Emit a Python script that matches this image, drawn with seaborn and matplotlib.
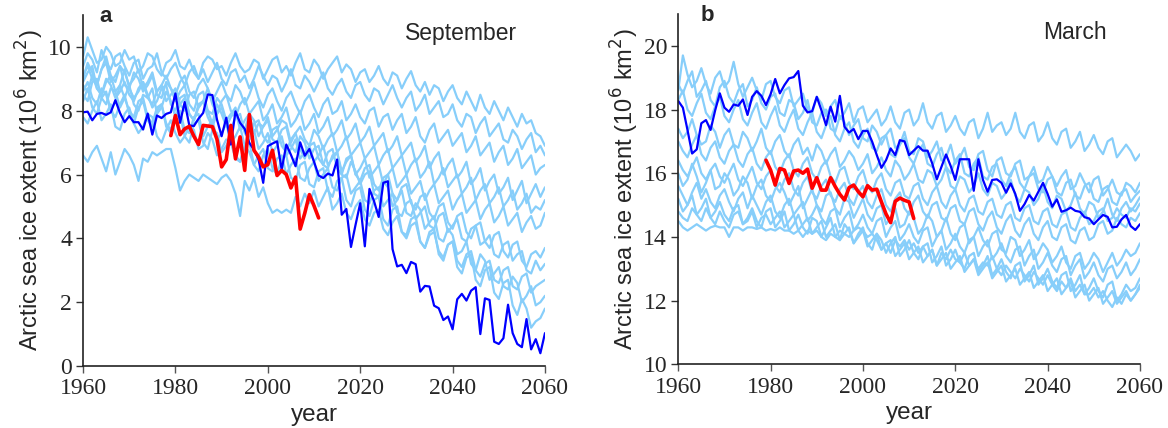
import numpy as np
import pandas as pd
import matplotlib
matplotlib.use("Agg")
import matplotlib.pyplot as plt
import seaborn as sns

years = list(range(1960, 2061))
obs_years = list(range(1979, 2012))

# ---------------- September (panel a) ----------------
sep_highlight = [
    7.95, 7.97, 7.70, 7.90, 7.93, 7.87, 7.95, 8.33, 7.93, 7.64,
    7.83, 7.64, 7.64, 7.41, 7.91, 7.25, 7.85, 7.77, 7.90, 7.95,
    8.54, 7.62, 8.27, 7.54, 7.52, 7.75, 7.93, 8.51, 8.49, 7.72,
    7.20, 7.78, 6.94, 7.98, 7.62, 7.43, 6.99, 6.78, 6.47, 5.74,
    6.89, 6.97, 7.04, 6.15, 6.94, 6.62, 6.26, 7.01, 6.59, 6.80,
    6.40, 5.97, 5.89, 6.03, 5.97, 6.47, 4.74, 4.92, 3.73, 4.43,
    5.10, 3.75, 5.55, 5.16, 4.67, 5.74, 5.79, 3.66, 3.12, 3.17,
    2.91, 3.26, 3.19, 2.33, 2.51, 2.49, 1.89, 1.81, 1.44, 1.55,
    1.15, 2.09, 2.26, 2.05, 2.36, 2.47, 1.00, 2.12, 2.07, 0.76,
    0.69, 0.87, 1.92, 1.03, 0.69, 0.59, 1.47, 0.52, 0.84, 0.40,
    1.03,
]
sep_obs = [
    7.22, 7.85, 7.25, 7.43, 7.51, 7.20, 6.94, 7.54, 7.52, 7.50,
    7.10, 6.24, 6.47, 7.54, 6.49, 7.18, 6.13, 7.88, 6.76, 6.55,
    6.24, 6.31, 6.76, 5.97, 6.13, 6.00, 5.58, 5.92, 4.29, 4.79,
    5.37, 5.02, 4.64,
]
sep_run_01 = [
    9.7, 10.3, 9.9, 9.5, 9.6, 10.0, 9.8, 9.4, 9.5, 9.9,
    9.6, 9.7, 9.2, 9.4, 9.8, 9.7, 9.3, 9.1, 9.5, 9.6,
    9.9, 9.4, 9.3, 9.6, 9.2, 9.0, 9.5, 9.7, 9.6, 9.3,
    9.4, 9.1, 9.5, 9.8, 9.4, 9.2, 9.3, 9.6, 9.5, 9.0,
    9.3, 9.6, 9.7, 9.2, 9.4, 9.1, 9.5, 9.8, 9.3, 9.2,
    9.6, 9.4, 9.0, 9.3, 9.5, 9.7, 9.2, 9.45, 9.3, 8.9,
    9.2, 9.3, 8.9, 9.1, 9.4, 9.0, 8.8, 9.2, 9.1, 8.7,
    9.0, 9.24, 8.8, 8.6, 8.9, 8.5, 8.8, 8.7, 8.3, 8.6,
    8.8, 8.4, 8.2, 8.6, 8.3, 8.0, 8.5, 8.1, 7.9, 8.3,
    8.0, 7.7, 8.1, 7.8, 7.5, 7.9, 7.6, 7.7, 7.3, 7.2,
    6.9,
]
sep_run_02 = [
    9.4, 9.8, 9.6, 9.2, 9.9, 9.5, 9.3, 9.7, 9.8, 9.4,
    9.1, 9.5, 9.6, 9.0, 9.3, 9.4, 9.8, 9.2, 9.0, 9.3,
    9.5, 9.1, 8.8, 9.2, 9.4, 9.0, 9.3, 8.9, 9.2, 9.5,
    9.0, 8.8, 9.2, 9.3, 8.9, 9.1, 8.7, 9.0, 9.4, 9.1,
    8.8, 9.1, 9.0, 8.6, 8.9, 9.3, 8.8, 8.7, 9.1, 8.9,
    8.6, 8.9, 9.2, 8.7, 8.5, 8.8, 9.0, 8.6, 8.4, 8.8,
    8.9, 8.5, 8.3, 8.7, 8.6, 8.2, 8.5, 8.8, 8.4, 8.1,
    8.4, 8.6, 8.0, 8.2, 8.5, 7.9, 8.1, 8.3, 7.8, 7.9,
    8.2, 7.7, 7.5, 7.9, 7.8, 7.3, 7.6, 7.8, 7.2, 7.4,
    7.6, 7.1, 7.0, 7.4, 7.2, 6.8, 7.1, 7.3, 6.7, 6.9,
    6.6,
]
sep_run_03 = [
    9.0, 9.5, 9.2, 8.8, 9.3, 9.7, 9.1, 8.9, 9.4, 9.2,
    8.8, 9.0, 9.3, 8.7, 8.9, 9.2, 8.6, 8.8, 9.1, 8.7,
    8.5, 8.9, 9.1, 8.6, 8.4, 8.8, 9.0, 8.7, 8.3, 8.6,
    8.9, 8.5, 8.3, 8.8, 8.6, 8.2, 8.5, 8.9, 8.4, 8.1,
    8.5, 8.7, 8.3, 8.0, 8.4, 8.6, 8.2, 7.9, 8.3, 8.5,
    8.1, 7.8, 8.2, 8.4, 7.9, 8.0, 8.3, 7.7, 7.9, 8.2,
    7.8, 7.6, 8.0, 8.1, 7.5, 7.8, 7.9, 7.4, 7.7, 7.9,
    7.3, 7.5, 7.8, 7.2, 7.0, 7.4, 7.6, 7.0, 7.2, 7.4,
    6.9, 7.1, 7.3, 6.7, 6.9, 7.2, 6.6, 6.8, 7.0, 6.4,
    6.7, 6.9, 6.3, 6.5, 6.8, 6.2, 6.4, 6.6, 6.0, 6.2,
    6.3,
]
sep_run_04 = [
    8.8, 8.6, 9.1, 8.7, 8.5, 9.0, 8.8, 8.4, 8.6, 8.9,
    8.5, 8.3, 8.7, 8.9, 8.4, 8.2, 8.6, 8.8, 8.3, 8.5,
    8.7, 8.2, 8.0, 8.5, 8.6, 8.1, 8.3, 8.7, 8.2, 7.9,
    8.3, 8.5, 8.0, 7.8, 8.2, 8.4, 7.9, 8.1, 8.3, 7.7,
    7.9, 8.2, 7.6, 7.8, 8.1, 7.5, 7.7, 8.0, 7.4, 7.6,
    7.9, 7.3, 7.5, 7.8, 7.2, 7.4, 7.7, 7.1, 7.3, 7.6,
    7.0, 7.2, 7.5, 6.9, 7.1, 7.3, 6.7, 6.9, 7.2, 6.6,
    6.8, 7.0, 6.4, 6.6, 6.9, 6.2, 6.5, 6.7, 6.0, 6.3,
    6.5, 5.9, 6.1, 6.4, 5.7, 5.9, 6.2, 5.5, 5.8, 6.0,
    5.4, 5.6, 5.9, 5.2, 5.5, 5.8, 5.1, 5.4, 5.7, 5.3,
    5.6,
]
sep_run_05 = [
    8.5, 8.3, 8.9, 9.0, 8.4, 8.2, 8.7, 8.6, 8.1, 8.4,
    8.8, 8.2, 8.0, 8.5, 8.4, 8.7, 7.9, 8.1, 8.6, 8.3,
    7.8, 8.2, 8.4, 7.9, 7.7, 8.1, 8.3, 8.0, 7.6, 8.2,
    7.9, 7.5, 7.8, 8.0, 7.4, 7.7, 7.9, 7.3, 7.6, 7.5,
    7.8, 7.2, 7.4, 7.7, 7.6, 7.0, 7.3, 7.5, 7.1, 6.9,
    7.4, 7.2, 6.8, 7.1, 7.3, 6.7, 6.9, 7.2, 6.6, 6.8,
    7.0, 6.5, 6.7, 6.9, 6.3, 6.6, 6.8, 6.2, 6.4, 6.6,
    6.0, 6.3, 6.5, 5.9, 6.1, 6.4, 5.7, 5.9, 6.2, 5.6,
    5.8, 6.0, 5.4, 5.6, 5.9, 5.2, 5.5, 5.7, 5.1, 5.3,
    5.6, 5.0, 5.2, 5.5, 4.9, 5.1, 5.4, 4.8, 5.0, 4.9,
    5.2,
]
sep_run_06 = [
    8.3, 8.7, 8.1, 7.9, 8.4, 8.6, 8.0, 7.8, 8.2, 8.5,
    7.9, 7.6, 8.1, 8.3, 7.7, 7.5, 8.0, 8.2, 7.6, 7.4,
    7.9, 8.0, 7.4, 7.3, 7.8, 7.9, 7.2, 7.5, 7.7, 7.1,
    7.3, 7.6, 7.0, 7.2, 7.5, 6.9, 7.1, 7.4, 6.8, 7.0,
    7.3, 6.7, 6.9, 7.2, 6.6, 6.8, 7.1, 6.5, 6.7, 6.9,
    6.4, 6.6, 6.9, 6.3, 6.5, 6.7, 6.1, 6.4, 6.6, 6.0,
    6.2, 6.5, 5.9, 6.1, 6.3, 5.7, 6.0, 6.2, 5.6, 5.8,
    6.0, 5.4, 5.6, 5.8, 5.2, 5.5, 5.7, 5.1, 5.3, 5.5,
    4.9, 5.2, 5.4, 4.8, 5.0, 5.2, 4.6, 4.9, 5.1, 4.5,
    4.7, 5.0, 4.4, 4.6, 4.8, 4.2, 4.5, 4.7, 4.3, 4.4,
    4.8,
]
sep_run_07 = [
    8.9, 9.2, 9.4, 8.7, 8.5, 8.9, 9.1, 8.6, 8.8, 9.3,
    8.7, 8.4, 8.6, 8.9, 8.5, 8.1, 8.3, 8.7, 8.8, 8.2,
    8.0, 8.4, 8.5, 7.9, 7.7, 8.2, 8.3, 7.8, 7.5, 7.9,
    8.1, 7.6, 7.4, 7.8, 7.9, 7.3, 7.1, 7.6, 7.7, 7.2,
    7.0, 7.4, 7.5, 6.9, 6.7, 7.1, 7.3, 6.8, 6.5, 6.9,
    7.0, 6.5, 6.3, 6.7, 6.8, 6.2, 6.0, 6.5, 6.6, 6.0,
    5.8, 6.2, 6.3, 5.7, 5.5, 5.9, 6.0, 5.4, 5.2, 5.6,
    5.7, 5.1, 4.9, 5.3, 5.4, 4.8, 4.6, 5.0, 5.1, 4.5,
    4.3, 4.7, 4.8, 4.2, 4.0, 4.4, 4.5, 3.9, 3.7, 4.1,
    4.2, 3.6, 3.4, 3.8, 3.9, 3.3, 3.1, 3.5, 3.6, 3.4,
    3.7,
]
sep_run_08 = [
    7.8, 7.6, 8.0, 8.3, 7.7, 7.9, 8.2, 7.5, 7.4, 7.9,
    8.1, 7.6, 7.3, 7.5, 7.9, 7.8, 7.2, 7.0, 7.4, 7.7,
    7.3, 7.0, 7.2, 7.5, 7.4, 6.8, 6.9, 7.3, 7.1, 6.6,
    6.8, 7.1, 7.0, 6.5, 6.4, 6.9, 6.7, 6.3, 6.6, 6.8,
    6.2, 6.1, 6.5, 6.6, 6.0, 6.3, 6.5, 5.9, 5.8, 6.2,
    6.4, 5.8, 6.0, 6.2, 5.6, 5.5, 5.9, 6.0, 5.4, 5.6,
    5.8, 5.2, 5.1, 5.5, 5.6, 5.0, 5.2, 5.4, 4.8, 4.7,
    5.1, 5.2, 4.6, 4.8, 5.0, 4.4, 4.3, 4.7, 4.8, 4.2,
    4.4, 4.6, 4.0, 3.9, 4.3, 4.4, 3.8, 3.9, 4.1, 3.5,
    3.4, 3.8, 3.9, 3.3, 3.5, 3.6, 3.0, 2.9, 3.3, 3.0,
    3.2,
]
sep_run_09 = [
    6.6, 6.4, 6.7, 6.9, 6.5, 6.1, 6.7, 6.0, 6.4, 6.8,
    6.6, 6.3, 5.8, 6.5, 6.4, 6.7, 6.6, 6.7, 6.8, 6.8,
    6.2, 5.5, 5.8, 6.0, 5.9, 5.8, 6.0, 5.9, 5.8, 5.7,
    5.9, 6.0, 5.8, 5.4, 4.7, 5.8, 5.5, 5.9, 5.3, 5.6,
    5.1, 4.8, 4.9, 4.8, 4.9, 4.8, 5.3, 5.0, 5.4, 5.1,
    5.5, 5.0, 5.3, 5.6, 4.9, 5.1, 5.4, 4.8, 4.6, 5.0,
    5.2, 4.6, 4.4, 4.8, 4.9, 4.3, 4.1, 4.5, 4.7, 4.2,
    4.0, 4.4, 4.5, 3.9, 3.7, 4.1, 4.2, 3.6, 3.4, 3.8,
    3.9, 3.3, 3.1, 3.5, 3.6, 3.0, 2.8, 3.2, 3.3, 2.7,
    2.6, 3.0, 3.1, 2.5, 2.4, 2.8, 2.9, 2.3, 2.5, 2.6,
    2.7,
]
sep_run_10 = [
    9.1, 9.4, 9.0, 8.8, 9.3, 9.5, 8.9, 9.1, 9.4, 8.8,
    8.7, 9.2, 9.0, 8.6, 8.8, 9.1, 8.5, 8.4, 8.9, 8.7,
    8.3, 8.6, 8.8, 8.2, 8.0, 8.5, 8.6, 8.0, 7.9, 8.4,
    8.2, 7.7, 7.9, 8.1, 7.5, 7.4, 7.9, 7.7, 7.2, 7.5,
    7.7, 7.1, 7.0, 7.4, 7.5, 6.9, 6.7, 7.2, 7.0, 6.5,
    6.8, 6.9, 6.3, 6.2, 6.6, 6.7, 6.0, 5.9, 6.4, 6.1,
    5.7, 6.0, 6.1, 5.4, 5.3, 5.8, 5.6, 5.0, 5.2, 5.5,
    4.8, 4.7, 5.1, 4.9, 4.3, 4.5, 4.7, 4.0, 3.9, 4.3,
    4.1, 3.5, 3.6, 3.9, 3.2, 3.0, 3.5, 3.3, 2.7, 2.9,
    3.1, 2.5, 2.4, 2.8, 2.6, 2.0, 2.2, 2.5, 1.9, 2.0,
    2.2,
]
sep_run_11 = [
    8.6, 8.9, 8.4, 8.2, 8.7, 8.5, 8.0, 8.3, 8.8, 8.4,
    8.0, 7.8, 8.3, 8.4, 7.8, 7.6, 8.1, 8.2, 7.5, 7.3,
    7.8, 7.9, 7.2, 7.0, 7.6, 7.7, 7.0, 6.8, 7.4, 7.3,
    6.7, 6.9, 7.2, 6.6, 6.4, 6.9, 7.0, 6.3, 6.1, 6.6,
    6.8, 6.2, 6.0, 6.5, 6.6, 5.9, 5.8, 6.3, 6.4, 5.7,
    5.6, 6.1, 6.2, 5.5, 5.3, 5.8, 5.9, 5.2, 5.0, 5.5,
    5.6, 4.9, 4.7, 5.2, 5.3, 4.6, 4.4, 4.9, 5.0, 4.2,
    4.1, 4.6, 4.7, 3.9, 3.7, 4.2, 4.3, 3.5, 3.3, 3.8,
    3.9, 3.1, 2.9, 3.4, 3.5, 2.7, 2.5, 3.0, 3.1, 2.3,
    2.1, 2.6, 2.7, 1.9, 1.6, 2.1, 1.8, 1.2, 1.4, 1.5,
    1.8,
]
sep_runs = [sep_run_01, sep_run_02, sep_run_03, sep_run_04, sep_run_05, sep_run_06,
            sep_run_07, sep_run_08, sep_run_09, sep_run_10, sep_run_11]

# ---------------- March (panel b) ----------------
mar_highlight = [
    18.27, 18.06, 17.36, 16.62, 16.75, 17.57, 17.67, 17.36, 17.98, 18.51,
    18.06, 17.93, 18.16, 18.12, 18.32, 17.83, 18.40, 18.58, 18.43, 18.14,
    18.48, 18.96, 18.51, 18.77, 18.98, 19.02, 19.21, 18.12, 17.91, 17.95,
    18.40, 17.98, 17.51, 18.09, 17.62, 18.43, 17.46, 17.28, 17.39, 17.07,
    17.33, 17.33, 16.99, 16.57, 16.17, 16.41, 16.78, 16.57, 17.04, 17.00,
    16.57, 16.71, 16.85, 16.71, 16.71, 16.31, 15.81, 16.20, 16.59, 16.23,
    15.79, 16.44, 16.44, 16.44, 15.45, 16.44, 15.79, 15.42, 15.79, 15.81,
    15.70, 15.39, 15.68, 15.35, 14.82, 15.03, 15.32, 15.14, 15.42, 15.70,
    15.35, 14.95, 15.18, 14.79, 14.84, 14.92, 14.82, 14.79, 14.62, 14.58,
    14.40, 14.55, 14.69, 14.63, 14.30, 14.32, 14.55, 14.69, 14.34, 14.22,
    14.40,
]
mar_obs = [
    16.41, 16.10, 15.63, 16.15, 16.10, 15.68, 16.07, 16.10, 16.00, 16.13,
    15.53, 15.86, 15.47, 15.47, 15.86, 15.58, 15.34, 15.16, 15.55, 15.63,
    15.42, 15.26, 15.61, 15.47, 15.50, 15.10, 14.72, 14.45, 15.12, 15.22,
    15.15, 15.10, 14.58,
]
mar_run_01 = [
    18.6, 19.7, 19.1, 18.7, 18.9, 19.3, 18.8, 18.5, 19.0, 19.2,
    18.7, 18.9, 19.5, 18.8, 18.4, 18.7, 19.0, 18.6, 18.3, 18.8,
    18.9, 18.4, 18.2, 18.6, 18.7, 18.1, 18.3, 18.5, 18.0, 17.9,
    18.4, 18.2, 17.8, 18.1, 18.3, 17.7, 17.9, 18.2, 17.6, 18.0,
    18.1, 17.6, 17.8, 18.0, 17.5, 17.7, 18.1, 17.6, 17.4, 17.9,
    18.0, 17.5, 17.7, 18.2, 17.6, 17.4, 17.8, 17.9, 17.3, 17.5,
    17.8, 17.4, 17.2, 17.6, 17.7, 17.1, 17.4, 17.9, 17.3, 17.5,
    17.6, 17.2, 17.4, 17.9, 17.3, 17.1, 17.5, 17.6, 17.0, 17.2,
    17.6, 17.1, 16.9, 17.3, 17.4, 16.8, 17.0, 17.3, 16.7, 16.9,
    17.2, 16.8, 16.6, 17.0, 17.1, 16.5, 16.7, 16.9, 16.7, 16.4,
    16.6,
]
mar_run_02 = [
    18.8, 18.5, 18.9, 19.2, 18.4, 18.6, 18.9, 18.3, 18.1, 18.7,
    18.9, 18.4, 18.2, 18.6, 18.8, 18.1, 18.3, 18.7, 18.2, 18.0,
    18.4, 18.5, 17.9, 17.8, 18.3, 18.2, 17.7, 17.9, 18.3, 17.6,
    17.5, 17.9, 18.0, 17.4, 17.3, 17.8, 17.6, 17.2, 17.5, 17.7,
    17.1, 17.0, 17.5, 17.3, 16.9, 17.2, 17.4, 16.8, 16.9, 17.3,
    16.7, 16.6, 17.1, 17.0, 16.5, 16.7, 17.0, 16.4, 16.5, 16.9,
    16.3, 16.5, 16.8, 16.2, 16.1, 16.6, 16.7, 16.1, 15.9, 16.4,
    16.5, 16.0, 15.9, 16.3, 16.4, 15.8, 15.9, 16.2, 15.7, 15.8,
    16.2, 15.9, 15.6, 15.9, 16.1, 15.5, 15.6, 16.0, 15.7, 15.4,
    15.8, 15.9, 15.3, 15.5, 15.8, 15.4, 15.3, 15.7, 15.6, 15.4,
    15.7,
]
mar_run_03 = [
    18.3, 18.6, 18.0, 17.8, 18.2, 18.5, 17.9, 17.7, 18.1, 18.4,
    17.8, 17.6, 18.0, 18.3, 17.7, 17.5, 17.9, 18.2, 17.6, 17.4,
    17.8, 18.1, 17.5, 17.3, 17.7, 18.0, 17.4, 17.2, 17.6, 17.9,
    17.3, 17.1, 17.5, 17.8, 17.2, 17.0, 17.4, 17.6, 17.0, 16.8,
    17.2, 17.4, 16.8, 16.7, 17.1, 17.2, 16.6, 16.5, 16.9, 17.1,
    16.5, 16.3, 16.7, 16.9, 16.3, 16.2, 16.6, 16.8, 16.2, 16.0,
    16.4, 16.6, 16.0, 15.9, 16.3, 16.5, 15.9, 15.8, 16.2, 16.3,
    15.8, 15.6, 16.0, 16.2, 15.7, 15.5, 15.9, 16.0, 15.5, 15.4,
    15.8, 15.9, 15.4, 15.3, 15.7, 15.8, 15.3, 15.2, 15.6, 15.7,
    15.2, 15.1, 15.5, 15.6, 15.1, 15.0, 15.4, 15.5, 15.1, 15.3,
    15.45,
]
mar_run_04 = [
    17.4, 17.1, 17.3, 17.7, 17.2, 16.9, 17.0, 17.5, 17.3, 16.8,
    17.2, 17.4, 16.9, 16.8, 17.3, 17.1, 16.7, 17.0, 17.4, 16.8,
    16.6, 17.0, 17.2, 16.7, 16.5, 16.9, 17.1, 16.6, 16.8, 16.4,
    16.9, 16.7, 16.3, 16.6, 16.8, 16.2, 16.4, 16.7, 16.5, 16.1,
    16.3, 16.6, 16.0, 16.2, 16.5, 16.1, 15.9, 16.4, 16.2, 15.8,
    16.0, 16.3, 15.8, 15.7, 16.1, 16.0, 15.6, 15.8, 16.2, 15.6,
    15.5, 15.9, 15.8, 15.4, 15.6, 16.0, 15.5, 15.3, 15.7, 15.6,
    15.2, 15.4, 15.8, 15.3, 15.1, 15.5, 15.4, 15.0, 15.2, 15.6,
    15.1, 14.9, 15.3, 15.2, 14.8, 15.0, 15.4, 14.9, 14.7, 15.1,
    15.0, 14.6, 14.8, 15.2, 14.7, 14.5, 14.9, 15.1, 14.8, 15.0,
    15.25,
]
mar_run_05 = [
    17.0, 16.7, 16.5, 16.9, 17.2, 16.6, 16.4, 16.8, 17.0, 16.5,
    16.3, 16.7, 16.9, 16.4, 16.2, 16.6, 16.8, 16.3, 16.1, 16.5,
    16.7, 16.2, 16.0, 16.4, 16.6, 16.1, 15.9, 16.3, 16.5, 16.0,
    15.8, 16.2, 16.4, 15.9, 15.7, 16.1, 16.2, 15.7, 15.5, 15.9,
    16.1, 15.6, 15.4, 15.8, 16.0, 15.5, 15.3, 15.7, 15.8, 15.3,
    15.2, 15.6, 15.7, 15.2, 15.0, 15.4, 15.6, 15.1, 14.9, 15.3,
    15.5, 15.0, 14.8, 15.2, 15.3, 14.8, 14.7, 15.1, 15.2, 14.7,
    14.6, 15.0, 15.1, 14.6, 14.5, 14.9, 15.0, 14.5, 14.4, 14.8,
    14.9, 14.4, 14.3, 14.7, 14.8, 14.3, 14.2, 14.6, 14.8, 14.4,
    14.5, 14.8, 14.9, 14.5, 14.6, 14.9, 14.7, 14.6, 14.9, 14.8,
    15.05,
]
mar_run_06 = [
    16.4, 16.1, 15.9, 16.2, 16.5, 16.0, 15.8, 16.1, 16.3, 15.9,
    15.7, 16.0, 16.3, 15.8, 15.6, 15.9, 16.2, 15.7, 15.5, 15.9,
    16.1, 15.6, 15.4, 15.8, 16.0, 15.5, 15.3, 15.7, 15.9, 15.4,
    15.2, 15.6, 15.8, 15.3, 15.1, 15.5, 15.7, 15.2, 15.0, 15.4,
    15.6, 15.1, 14.9, 15.3, 15.5, 15.0, 14.8, 15.2, 15.4, 14.9,
    14.7, 15.1, 15.3, 14.8, 14.6, 15.0, 15.1, 14.6, 14.5, 14.9,
    15.0, 14.5, 14.4, 14.8, 14.9, 14.4, 14.2, 14.6, 14.8, 14.3,
    14.1, 14.5, 14.7, 14.2, 14.0, 14.4, 14.6, 14.1, 13.9, 14.3,
    14.5, 14.0, 13.9, 14.3, 14.4, 13.9, 13.8, 14.2, 14.3, 13.9,
    14.0, 14.4, 14.5, 14.1, 14.2, 14.6, 14.4, 14.3, 14.6, 14.5,
    14.75,
]
mar_run_07 = [
    16.0, 15.6, 15.8, 16.3, 15.9, 15.4, 15.7, 16.1, 15.5, 15.6,
    16.0, 15.8, 15.3, 15.5, 15.9, 15.7, 15.2, 15.6, 15.8, 15.3,
    15.1, 15.5, 15.7, 15.4, 15.0, 15.3, 15.6, 14.9, 15.2, 15.5,
    15.0, 14.8, 15.3, 15.4, 14.9, 14.7, 15.2, 15.1, 14.6, 14.9,
    15.2, 14.7, 14.5, 14.9, 15.0, 14.4, 14.6, 14.9, 14.3, 14.4,
    14.8, 14.6, 14.1, 14.3, 14.7, 14.5, 14.0, 14.2, 14.6, 14.1,
    13.9, 14.3, 14.4, 13.8, 14.0, 14.3, 13.9, 13.7, 14.1, 14.2,
    13.6, 13.5, 14.0, 13.9, 13.4, 13.6, 13.9, 13.3, 13.5, 13.8,
    13.6, 13.2, 13.4, 13.7, 13.2, 13.0, 13.4, 13.5, 13.0, 13.2,
    13.5, 13.3, 12.9, 13.2, 13.5, 13.1, 13.3, 13.6, 13.4, 13.5,
    13.8,
]
mar_run_08 = [
    15.6, 15.3, 15.0, 15.4, 15.7, 15.2, 15.5, 15.1, 14.9, 15.3,
    15.5, 15.1, 14.8, 15.2, 15.4, 14.9, 15.3, 15.0, 14.7, 15.1,
    15.3, 14.8, 14.6, 15.0, 15.2, 14.7, 14.9, 15.1, 14.5, 14.7,
    15.0, 14.6, 14.4, 14.8, 14.9, 14.3, 14.6, 14.8, 14.2, 14.4,
    14.7, 14.3, 14.1, 14.5, 14.6, 14.0, 14.3, 14.5, 13.9, 14.1,
    14.4, 14.0, 13.8, 14.2, 14.3, 13.7, 14.0, 14.2, 13.6, 13.8,
    14.1, 13.7, 13.5, 13.9, 14.0, 13.4, 13.7, 13.9, 13.3, 13.5,
    13.8, 13.4, 13.2, 13.6, 13.7, 13.1, 13.4, 13.6, 13.0, 13.2,
    13.5, 13.1, 12.9, 13.3, 13.4, 12.8, 13.1, 13.3, 12.7, 12.9,
    13.2, 12.8, 12.6, 13.0, 13.1, 12.7, 12.9, 13.2, 12.8, 13.0,
    13.3,
]
mar_run_09 = [
    15.2, 14.8, 15.0, 15.3, 14.7, 14.9, 15.2, 14.6, 14.8, 15.1,
    14.7, 14.5, 14.9, 15.0, 14.4, 14.6, 14.9, 14.5, 14.3, 14.8,
    14.9, 14.3, 14.5, 14.8, 14.2, 14.4, 14.7, 14.3, 14.1, 14.6,
    14.5, 14.0, 14.3, 14.6, 14.0, 13.9, 14.4, 14.2, 13.8, 14.1,
    14.3, 13.8, 13.6, 14.1, 13.9, 13.5, 13.8, 14.0, 13.4, 13.6,
    13.9, 13.5, 13.3, 13.7, 13.8, 13.2, 13.4, 13.7, 13.1, 13.3,
    13.6, 13.2, 13.0, 13.4, 13.5, 12.9, 13.1, 13.4, 12.8, 13.0,
    13.3, 12.9, 12.7, 13.1, 13.2, 12.6, 12.8, 13.1, 12.5, 12.7,
    13.0, 12.6, 12.4, 12.8, 12.9, 12.3, 12.5, 12.8, 12.2, 12.4,
    12.7, 12.3, 12.1, 12.5, 12.6, 12.0, 12.2, 12.5, 12.3, 12.4,
    12.7,
]
mar_run_10 = [
    14.8, 14.6, 14.5, 14.9, 14.7, 14.5, 14.9, 14.6, 14.4, 14.8,
    14.5, 14.3, 14.7, 14.8, 14.4, 14.5, 14.8, 14.3, 14.6, 14.7,
    14.4, 14.6, 14.8, 14.3, 14.5, 14.7, 14.2, 14.4, 14.6, 14.1,
    14.3, 14.5, 14.0, 14.2, 14.4, 13.9, 14.1, 14.3, 13.8, 14.0,
    14.2, 13.7, 13.9, 14.1, 13.6, 13.8, 13.9, 13.4, 13.6, 13.8,
    13.3, 13.5, 13.7, 13.2, 13.4, 13.6, 13.1, 13.3, 13.5, 13.0,
    13.2, 13.4, 12.9, 13.1, 13.3, 12.8, 13.0, 13.2, 12.7, 12.9,
    13.1, 12.6, 12.8, 13.0, 12.5, 12.7, 12.9, 12.4, 12.6, 12.8,
    12.3, 12.5, 12.7, 12.2, 12.4, 12.6, 12.1, 12.3, 12.5, 12.0,
    12.2, 12.4, 11.9, 12.1, 12.3, 11.9, 12.1, 12.3, 12.0, 12.2,
    12.5,
]
mar_run_11 = [
    14.5, 14.3, 14.2, 14.3, 14.4, 14.3, 14.2, 14.3, 14.35, 14.3,
    14.3, 14.0, 14.3, 14.3, 14.2, 14.3, 14.3, 14.25, 14.3, 14.2,
    14.25, 14.2, 14.3, 14.2, 14.2, 14.1, 14.2, 14.0, 14.2, 14.1,
    14.2, 14.0, 13.9, 14.1, 14.0, 14.2, 14.1, 14.0, 14.2, 14.3,
    14.2, 14.0, 14.1, 13.9, 13.6, 13.8, 13.5, 13.9, 13.7, 13.9,
    13.6, 13.8, 13.5, 13.7, 13.4, 13.6, 13.1, 13.5, 13.3, 13.6,
    13.3, 13.2, 13.5, 13.1, 13.3, 13.0, 13.2, 13.1, 13.4, 13.0,
    12.8, 13.1, 12.9, 12.7, 13.0, 12.8, 12.6, 12.9, 12.7, 12.5,
    12.8, 12.5, 12.3, 12.6, 12.4, 12.7, 12.3, 12.5, 12.2, 12.2,
    12.4, 12.1, 12.3, 12.0, 11.8, 12.1, 11.9, 12.2, 12.0, 12.2,
    12.4,
]
mar_runs = [mar_run_01, mar_run_02, mar_run_03, mar_run_04, mar_run_05, mar_run_06,
            mar_run_07, mar_run_08, mar_run_09, mar_run_10, mar_run_11]

panel_letters = ["a", "b"]
panel_months = ["September", "March"]
y_limits = [(0, 11), (10, 21)]
y_ticks = [list(range(0, 11, 2)), list(range(10, 21, 2))]
x_ticks = [1960, 1980, 2000, 2020, 2040, 2060]

LIGHT = "#87CEFA"
DARK = "#0000FF"
OBS = "#FF0000"


def runs_frame(runs):
    rows = []
    for i, run in enumerate(runs):
        for yr, v in zip(years, run):
            rows.append((i, yr, v))
    return pd.DataFrame(rows, columns=["run", "year", "extent"])


sns.set_style("ticks")
plt.rcParams["font.family"] = ["Liberation Sans", "DejaVu Sans"]

fig = plt.figure(figsize=(11.68, 4.28), dpi=100)
ax_a = fig.add_axes([0.0711, 0.1449, 0.3955, 0.8201])
ax_b = fig.add_axes([0.5807, 0.1488, 0.3953, 0.8184])

panels = [
    (ax_a, sep_runs, sep_highlight, sep_obs),
    (ax_b, mar_runs, mar_highlight, mar_obs),
]

for k, (ax, runs, highlight, obs) in enumerate(panels):
    sns.lineplot(data=runs_frame(runs), x="year", y="extent", units="run",
                 estimator=None, color=LIGHT, linewidth=1.6, ax=ax, legend=False)
    sns.lineplot(x=years, y=highlight, color=DARK, linewidth=1.6, ax=ax)
    sns.lineplot(x=obs_years, y=obs, color=OBS, linewidth=2.6, ax=ax)

    ax.set_xlim(1960, 2060)
    ax.set_ylim(*y_limits[k])
    ax.set_xticks(x_ticks)
    ax.set_yticks(y_ticks[k])
    for lab in ax.get_xticklabels() + ax.get_yticklabels():
        lab.set_family(["Liberation Serif", "DejaVu Serif"])
    ax.tick_params(axis="x", labelsize=17, length=5, width=1.0, color="#555555", pad=4)
    ax.tick_params(axis="y", labelsize=17, length=5, width=1.0, color="#333333", pad=3)
    sns.despine(ax=ax)
    for side in ("left", "bottom"):
        ax.spines[side].set_linewidth(1.2)
        ax.spines[side].set_color("#222222")

    ax.set_xlabel("year", fontsize=17.5, labelpad=3)
    ax.set_ylabel("Arctic sea ice extent (10$^6$ km$^2$)", fontsize=17, labelpad=2)
    ax.text(0.048 if k == 0 else 0.062, 0.995, panel_letters[k], transform=ax.transAxes,
            fontsize=16, fontweight="bold", ha="center", va="center")
    ax.text(0.818 if k == 0 else 0.859, 0.948, panel_months[k], transform=ax.transAxes,
            fontsize=16.5, ha="center", va="center")

fig.savefig("out.png", dpi=100)
